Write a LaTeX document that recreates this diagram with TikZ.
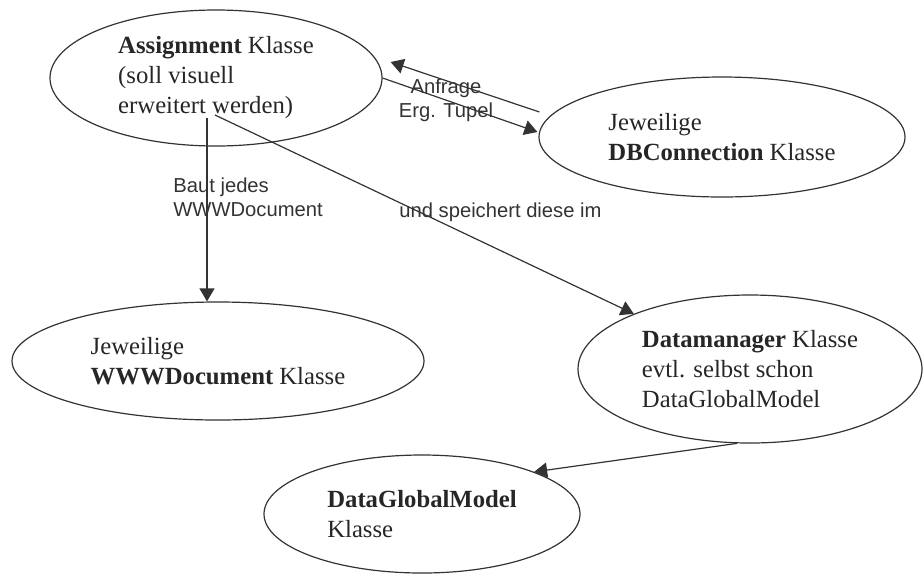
\documentclass[tikz,border=0pt]{standalone}
\usepackage{fontspec}
\setmainfont{Liberation Serif}
\setsansfont{Liberation Sans}
\usetikzlibrary{shapes.geometric,arrows.meta,calc}

\begin{document}
\begin{tikzpicture}[x=0.5pt,y=-0.5pt,
    klasse/.style={draw=black!80, line width=0.6pt, ellipse, inner sep=0pt, align=left,
      font=\fontsize{12.35}{15}\selectfont, text=black!85},
    notiz/.style={inner sep=0pt, font=\sffamily\fontsize{10.1}{12}\selectfont, text=black!80},
    pfeil/.style={draw=black!80, line width=0.6pt, -{Triangle[length=6.5pt,width=7.5pt]}}]
	\useasboundingbox (0,0) rectangle (924,574);

	\node[klasse, minimum width=166pt, minimum height=68pt] (assign) at (216,78) {\textbf{Assignment} Klasse\\(soll visuell\\erweitert werden)};
	\node[klasse, minimum width=183pt, minimum height=60pt] (dbconn) at (722,137) {Jeweilige\\\textbf{DBConnection} Klasse};
	\node[klasse, minimum width=206pt, minimum height=59pt] (wwwdoc) at (218,361) {Jeweilige\\\textbf{WWWDocument} Klasse};
	\node[klasse, minimum width=172pt, minimum height=74pt] (datamgr) at (750,369) {\textbf{Datamanager} Klasse\\evtl. selbst schon\\DataGlobalModel};
	\node[klasse, minimum width=158pt, minimum height=59pt] (dgmodel) at (422,514) {\textbf{DataGlobalModel}\\Klasse};

	\node[notiz, align=center] (anfrage) at (446,100) {Anfrage\\Erg. Tupel};
	\node[notiz, align=left, anchor=west] (baut) at (173,197) {Baut jedes\\WWWDocument};
	\node[notiz, anchor=west] (speichert) at (399,212) {und speichert diese im};

	\coordinate (bautstart) at (207,118);
	\coordinate (speichstart) at (215,115);

	\draw[pfeil] (bautstart) -- (bautstart |- wwwdoc.north);
	\draw[pfeil] (speichstart) -- (datamgr);
	\draw[pfeil] ($(dbconn.west)+(1,-25)$) -- ($(assign.east)+(8,-16)$);
	\draw[pfeil] (assign.east) -- ($(dbconn.west)+(-1,-5)$);
	\draw[pfeil] (datamgr.260) -- (dgmodel.north east);

\end{tikzpicture}
\end{document}
